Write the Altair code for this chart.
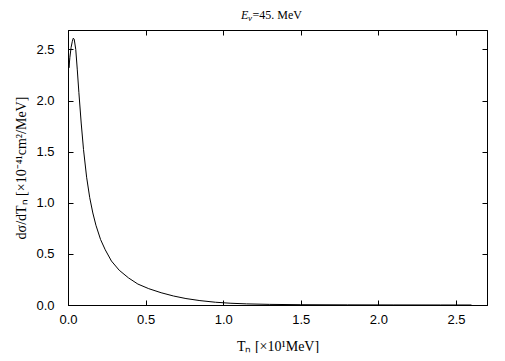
import altair as alt
import pandas as pd

# Kinetic energy T_n in units of 10 MeV
tn = [0.0, 0.003, 0.006, 0.012, 0.02, 0.028, 0.034, 0.04, 0.05, 0.06, 0.07, 0.085,
      0.1, 0.12, 0.14, 0.16, 0.18, 0.21, 0.24, 0.28, 0.33, 0.39, 0.45, 0.52, 0.6,
      0.68, 0.76, 0.85, 0.95, 1.05, 1.15, 1.3, 1.5, 1.8, 2.1, 2.4, 2.6]
# dsigma/dT_n in units of 1e-41 cm^2/MeV
dsig = [1.63, 2.48, 2.32, 2.42, 2.52, 2.58, 2.61, 2.6, 2.5, 2.3, 2.08, 1.78,
        1.52, 1.25, 1.05, 0.9, 0.78, 0.64, 0.54, 0.43, 0.34, 0.265, 0.205, 0.16, 0.12,
        0.088, 0.063, 0.043, 0.027, 0.017, 0.011, 0.006, 0.003, 0.0015, 0.0007, 0.0003, 0.0001]

x_ticks = [0.0, 0.5, 1.0, 1.5, 2.0, 2.5]
y_ticks = [0.0, 0.5, 1.0, 1.5, 2.0, 2.5]

df = pd.DataFrame({"Tn": tn, "dsig": dsig})

x_scale = alt.Scale(domain=[0, 2.7], nice=False, zero=False)
y_scale = alt.Scale(domain=[0, 2.69], nice=False, zero=False)
inward = {"expr": "-5"}

label_font = "Liberation Sans"
title_font = "Liberation Serif"

line = alt.Chart(df).mark_line(color="black", strokeWidth=1, clip=True).encode(
    x=alt.X("Tn:Q", scale=x_scale,
            axis=alt.Axis(orient="bottom", values=x_ticks, format=".1f", tickSize=inward,
                          grid=False, labelPadding=13, labelFlush=False, title="Tₙ [×10¹MeV]",
                          titlePadding=13, titleFont=title_font, titleFontSize=14,
                          titleFontWeight="normal")),
    y=alt.Y("dsig:Q", scale=y_scale,
            axis=alt.Axis(orient="left", values=y_ticks, format=".1f", tickSize=inward,
                          grid=False, labelPadding=19, title="dσ/dTₙ [×10⁻⁴¹cm²/MeV]",
                          titlePadding=7, titleFont=title_font, titleFontSize=14,
                          titleFontWeight="normal")),
)

mirror = alt.Chart(df).mark_line(opacity=0).encode(
    x=alt.X("Tn:Q", scale=x_scale,
            axis=alt.Axis(orient="top", values=x_ticks, labels=False, title=None,
                          grid=False, tickSize=inward)),
    y=alt.Y("dsig:Q", scale=y_scale,
            axis=alt.Axis(orient="right", values=y_ticks, labels=False, title=None,
                          grid=False, tickSize=inward)),
)

base_title = alt.Chart(pd.DataFrame({"a": [0]}))
t_e = base_title.mark_text(text="E", font=title_font, fontSize=12, fontStyle="italic",
                           align="left", baseline="alphabetic", color="black").encode(
    x=alt.value(173), y=alt.value(-11.5))
t_nu = base_title.mark_text(text="ν", font=title_font, fontSize=9, fontStyle="italic",
                            align="left", baseline="alphabetic", color="black").encode(
    x=alt.value(180), y=alt.value(-9))
t_rest = base_title.mark_text(text="=45. MeV", font=title_font, fontSize=12,
                              align="left", baseline="alphabetic", color="black").encode(
    x=alt.value(184.5), y=alt.value(-11.5))

chart = alt.layer(line, mirror, t_e, t_nu, t_rest).resolve_axis(
    x="independent", y="independent"
).properties(
    width=419, height=275,
    background="white",
    autosize=alt.AutoSizeParams(type="none"),
    padding={"left": 60, "top": 22, "right": 10, "bottom": 48},
).configure_view(
    stroke="black", strokeWidth=1
).configure_axis(
    grid=False, domainColor="black", tickColor="black", labelColor="black",
    titleColor="black", labelFont=label_font, labelFontSize=13, domainWidth=1, tickWidth=1
)

chart.save("out.html", embed_options={"renderer": "svg", "actions": False})
